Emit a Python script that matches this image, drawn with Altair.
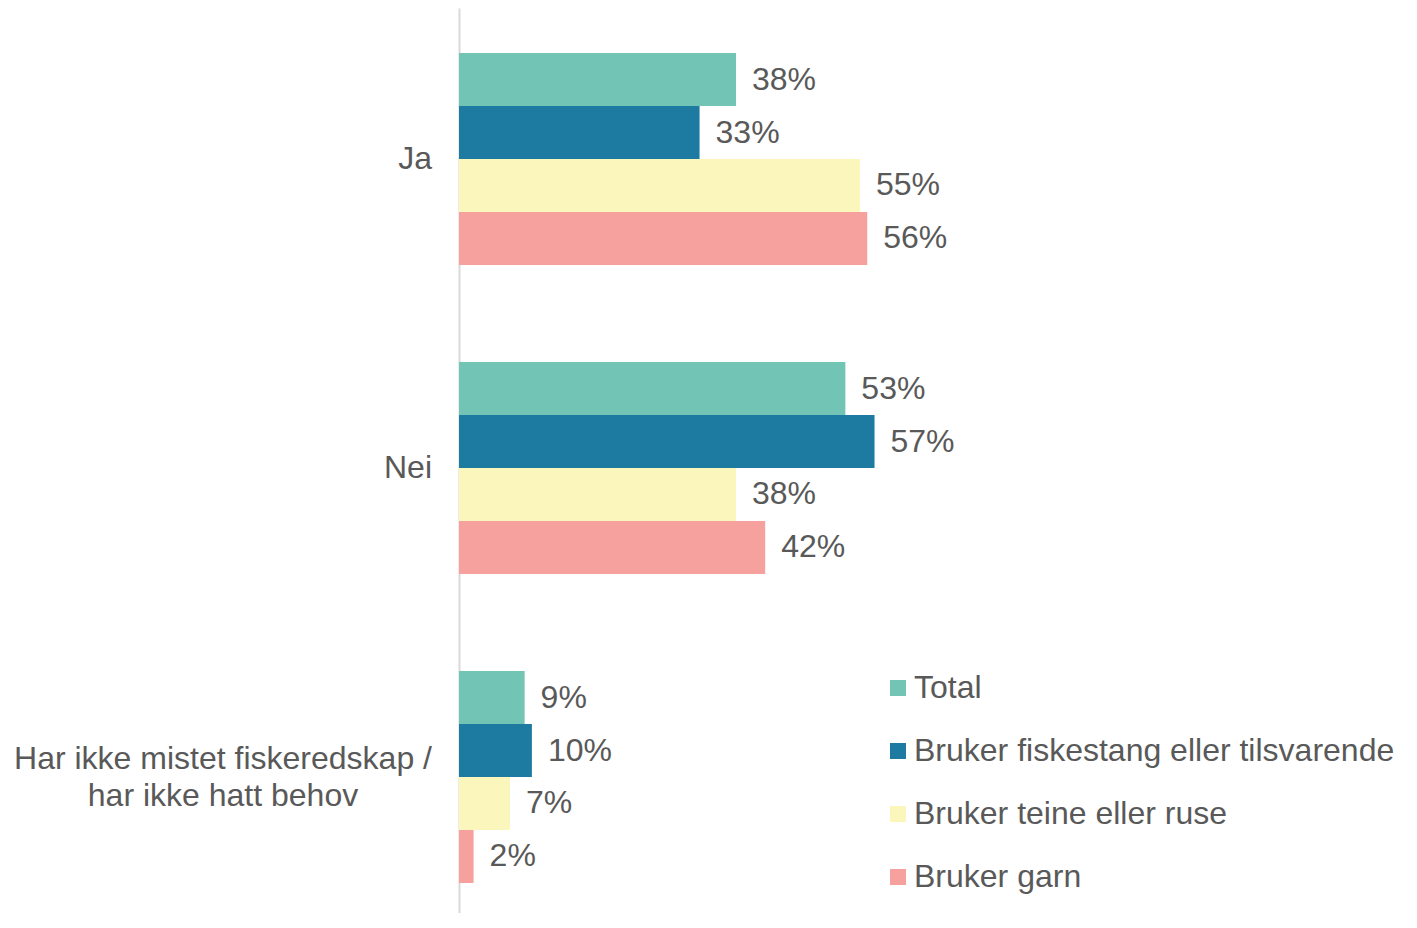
import altair as alt
import pandas as pd

categories = ["Ja", "Nei", "Har ikke mistet fiskeredskap / har ikke hatt behov"]
category_lines = [["Ja"], ["Nei"], ["Har ikke mistet fiskeredskap /", "har ikke hatt behov"]]
series = ["Total", "Bruker fiskestang eller tilsvarende", "Bruker teine eller ruse", "Bruker garn"]
colors = ["#72C5B4", "#1D7BA1", "#FBF7BC", "#F6A19D"]
values = {
    "Total": [38, 53, 9],
    "Bruker fiskestang eller tilsvarende": [33, 57, 10],
    "Bruker teine eller ruse": [55, 38, 7],
    "Bruker garn": [56, 42, 2],
}

rows = []
for s in series:
    for c, v in zip(categories, values[s]):
        rows.append({"kategori": c, "serie": s, "verdi": v / 100, "etikett": f"{v}%"})
df = pd.DataFrame(rows)

cat_df = pd.DataFrame({
    "kategori": categories,
    "tekst": ["\n".join(l) for l in category_lines],
    "linjer": [len(l) for l in category_lines],
})

FONT = "Liberation Sans"
GREY = "#595959"

y_scale = alt.Scale(paddingInner=0.314, paddingOuter=0.1214, align=0.6)
y_enc = alt.Y(
    "kategori:N",
    sort=categories,
    scale=y_scale,
    axis=alt.Axis(
        title=None,
        ticks=False,
        labels=False,
        domainColor="#D9D9D9",
        domainWidth=2,
        grid=False,
    ),
)
yoff = alt.YOffset("serie:N", sort=series, scale=alt.Scale(paddingInner=0, paddingOuter=0))
x_enc = alt.X("verdi:Q", scale=alt.Scale(domain=[0, 1], nice=False), axis=None)

bars = alt.Chart(df).mark_bar().encode(
    x=x_enc,
    y=y_enc,
    yOffset=yoff,
    color=alt.Color(
        "serie:N",
        sort=series,
        scale=alt.Scale(domain=series, range=colors),
        legend=alt.Legend(
            title=None,
            orient="none",
            legendX=423,
            legendY=664,
            symbolType="square",
            symbolSize=256,
            symbolStrokeWidth=0,
            labelFont=FONT,
            labelFontSize=32,
            labelColor=GREY,
            labelOffset=0,
            labelLimit=600,
            rowPadding=31,
            padding=0,
        ),
    ),
)

labels = alt.Chart(df).mark_text(
    align="left", baseline="middle", dx=16, font=FONT, fontSize=32, color=GREY
).encode(
    x=x_enc,
    y=alt.Y("kategori:N", sort=categories),
    yOffset=yoff,
    text="etikett:N",
)

cat_single = alt.Chart(cat_df).transform_filter("datum.linjer == 1").mark_text(
    align="right", baseline="middle", font=FONT, fontSize=32, color=GREY
).encode(
    x=alt.value(-27),
    y=alt.Y("kategori:N", sort=categories),
    text="tekst:N",
)

cat_multi = alt.Chart(cat_df).transform_filter("datum.linjer > 1").mark_text(
    align="center", baseline="middle", font=FONT, fontSize=32, color=GREY,
    lineBreak="\n", lineHeight=37, dy=-18,
).encode(
    x=alt.value(-236),
    y=alt.Y("kategori:N", sort=categories),
    text="tekst:N",
)

chart = (
    alt.layer(bars, labels, cat_single, cat_multi)
    .properties(
        width=729,
        height=905,
        background="white",
        autosize=alt.AutoSizeParams(type="none"),
        padding={"left": 451, "top": 0, "right": 210, "bottom": 0},
    )
    .configure_view(strokeWidth=0, stroke=None)
)

chart.save("out.html", embed_options={"renderer": "svg", "actions": False})
